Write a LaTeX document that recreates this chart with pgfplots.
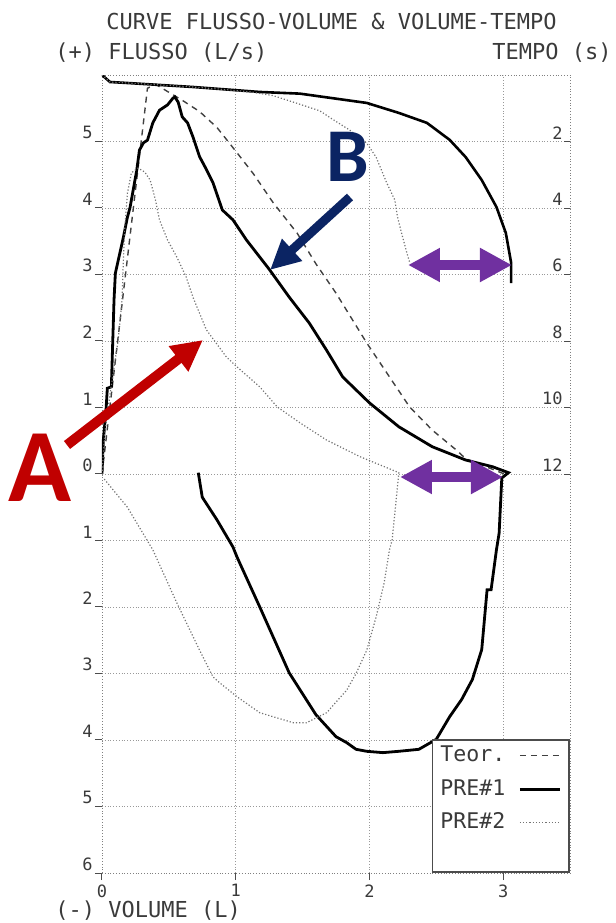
\documentclass[border=0pt]{standalone}
\usepackage{pgfplots}
\pgfplotsset{compat=1.18}
\usepackage{fontspec}
\setmainfont{DejaVu Sans Mono}
\newfontfamily\calib{Carlito}
\usetikzlibrary{arrows.meta}
\definecolor{inkgray}{HTML}{3A3A3A}
\definecolor{annred}{HTML}{C00000}
\definecolor{annblue}{HTML}{0B2463}
\definecolor{annpurple}{HTML}{7030A0}

\begin{document}
\begin{tikzpicture}
\path[use as bounding box] (-51pt,-25pt) rectangle (257pt,436.5pt);

% flow-volume loops
\begin{axis}[
  at={(0pt,0pt)}, anchor=south west,
  scale only axis, width=234pt, height=399pt,
  xmin=0, xmax=3.5, ymin=-6, ymax=6,
  xtick={0,1,2,3}, xticklabels={0,1,2,3},
  ytick={-6,...,5}, yticklabels={6,5,4,3,2,1,0,1,2,3,4,5},
  xtick pos=bottom, ytick pos=left,
  tick align=outside, major tick length=3.5pt,
  grid=major, major grid style={densely dotted, gray!80},
  axis line style={densely dotted, gray},
  tick style={gray!60!black, line width=0.5pt},
  ticklabel style={font=\fontsize{8.5}{9}\selectfont, text=inkgray, inner sep=0pt},
  yticklabel style={anchor=south east, xshift=-1pt, yshift=1pt},
  xticklabel style={anchor=north, yshift=-2pt},
  legend style={at={(rel axis cs:1,0)}, anchor=south east, draw=black!70,
    line width=0.8pt, fill=white, font=\fontsize{10.8}{12}\selectfont,
    text=inkgray, inner xsep=4pt, inner ysep=3pt, row sep=6.75pt,
    column sep=6.5pt, nodes={inner sep=0pt, text height=8pt, text depth=2pt}},
  legend plot pos=right, legend cell align=left,
  legend image code/.code={\draw[#1] (0pt,0pt) -- (20pt,0pt);},
]
\addplot[black!75, line width=0.7pt, dash pattern=on 3pt off 2.5pt] coordinates {
 (0,0) (0.34,5.80) (0.40,5.86) (0.60,5.62) (0.73,5.45) (0.86,5.21) (1.01,4.83)
 (1.13,4.52) (1.28,4.08) (1.46,3.62) (1.60,3.16) (1.75,2.72) (1.98,1.97)
 (2.13,1.52) (2.30,1.01) (2.47,0.66) (2.65,0.36) (2.72,0.23) (3.01,0)
};
\addlegendentry{Teor.}
\addplot[black, line width=1.4pt] coordinates {
 (0,0) (0.01,0.51) (0.03,0.96) (0.04,1.29) (0.07,1.31) (0.08,1.97) (0.09,2.62)
 (0.10,3.02) (0.16,3.56) (0.19,3.86) (0.21,4.01) (0.26,4.57) (0.28,4.87)
 (0.31,4.98) (0.34,5.02) (0.38,5.28) (0.43,5.47) (0.49,5.55) (0.53,5.65)
 (0.545,5.67) (0.57,5.59) (0.60,5.37) (0.64,5.28) (0.68,5.07) (0.73,4.77)
 (0.77,4.62) (0.83,4.38) (0.90,3.97) (0.98,3.82) (1.08,3.52) (1.25,3.08)
 (1.40,2.66) (1.55,2.27) (1.68,1.86) (1.80,1.46) (2.00,1.07) (2.22,0.71)
 (2.47,0.41) (2.72,0.21) (2.92,0.11) (3.04,0.02) (2.99,-0.06) (2.97,-0.89)
 (2.95,-1.14) (2.91,-1.74) (2.88,-1.74) (2.84,-2.64) (2.77,-3.09) (2.69,-3.39)
 (2.60,-3.65) (2.50,-3.99) (2.37,-4.14) (2.22,-4.17) (2.10,-4.19) (1.98,-4.17)
 (1.90,-4.14) (1.83,-4.04) (1.75,-3.95) (1.60,-3.62) (1.40,-2.99) (1.18,-2.00)
 (1.01,-1.25) (0.98,-1.10) (0.86,-0.69) (0.75,-0.35) (0.72,0.02)
};
\addlegendentry{PRE\#1}
\addplot[black!55, line width=0.6pt, densely dotted] coordinates {
 (0,0) (0.02,0.6) (0.06,1.2) (0.12,2.0) (0.15,2.62) (0.16,3.22) (0.17,3.71)
 (0.19,4.22) (0.22,4.53) (0.27,4.60) (0.32,4.54) (0.36,4.42) (0.40,4.12)
 (0.43,3.82) (0.49,3.52) (0.56,3.26) (0.63,2.96) (0.68,2.66) (0.78,2.17)
 (0.93,1.76) (1.01,1.61) (1.18,1.31) (1.31,1.01) (1.48,0.77) (1.68,0.51)
 (1.93,0.26) (2.22,0.02) (2.20,-0.39) (2.17,-0.99) (2.15,-1.14) (2.11,-1.64)
 (2.05,-2.15) (1.98,-2.65) (1.90,-3.00) (1.83,-3.25) (1.68,-3.59) (1.53,-3.74)
 (1.43,-3.74) (1.18,-3.59) (1.01,-3.35) (0.88,-3.14) (0.83,-3.05) (0.73,-2.65)
 (0.56,-1.94) (0.38,-1.14) (0.19,-0.50) (0.01,-0.06)
};
\addlegendentry{PRE\#2}
\addlegendimage{empty legend}
\addlegendentry{}
\end{axis}

% volume-time curves, time axis on the right
\begin{axis}[
  at={(0pt,0pt)}, anchor=south west,
  scale only axis, width=234pt, height=399pt,
  xmin=0, xmax=3.5, ymin=0, ymax=24, y dir=reverse,
  axis line style={draw=none},
  xtick=\empty, ytick={2,4,6,8,10,12}, yticklabels={2,4,6,8,10,12},
  ytick pos=right, yticklabel pos=right,
  tick align=inside, major tick length=3pt,
  tick style={gray!60!black, line width=0.5pt},
  ticklabel style={font=\fontsize{8.5}{9}\selectfont, text=inkgray, inner sep=0pt},
  yticklabel style={anchor=south east, xshift=-3.5pt, yshift=1pt},
]
\addplot[black, line width=1.3pt] coordinates {
 (0,0) (0.06,0.21) (0.19,0.24) (0.68,0.36) (1.18,0.51) (1.48,0.56) (1.98,0.84)
 (2.22,1.14) (2.43,1.44) (2.60,1.95) (2.72,2.47) (2.84,3.16) (2.95,3.97)
 (3.02,4.75) (3.06,5.65) (3.06,6.26)
};
\addplot[black!55, line width=0.6pt, densely dotted] coordinates {
 (0,0) (0.06,0.21) (0.19,0.24) (0.68,0.36) (1.10,0.50) (1.28,0.62) (1.48,0.88)
 (1.63,1.08) (1.72,1.32) (1.85,1.65) (1.98,2.05) (2.05,2.47) (2.13,3.25)
 (2.19,3.76) (2.21,4.27) (2.24,4.75) (2.28,5.35) (2.30,5.62)
};
\end{axis}

% headings
\begin{scope}[every node/.style={inner sep=0pt, text=inkgray, font=\fontsize{11}{13}\selectfont}]
\node[anchor=base west] at (2pt,421.5pt) {CURVE FLUSSO-VOLUME \& VOLUME-TEMPO};
\node[anchor=base west] at (-23.5pt,406.5pt) {(+) FLUSSO (L/s)};
\node[anchor=base east] at (255pt,406.5pt) {TEMPO (s)};
\node[anchor=base west] at (-23.5pt,-22.5pt) {(-) VOLUME (L)};
\end{scope}

% annotations
\draw[annred, line width=5pt, -{Triangle[length=15.5pt,width=15pt]}] (-17.5pt,214pt) -- (50.5pt,266.5pt);
\node[annred, inner sep=0pt, font=\calib\bfseries\fontsize{52}{52}\selectfont] at (-31pt,202.5pt) {A};
\draw[annblue, line width=4.5pt, -{Triangle[length=15pt,width=14pt]}] (124pt,338pt) -- (84pt,301.5pt);
\node[annblue, inner sep=0pt, font=\calib\bfseries\fontsize{38}{38}\selectfont] at (123pt,358pt) {B};
\draw[annpurple, line width=5pt, {Triangle[length=16pt,width=16pt]}-{Triangle[length=16pt,width=16pt]}] (153pt,304pt) -- (205pt,304pt);
\draw[annpurple, line width=5pt, {Triangle[length=16pt,width=16pt]}-{Triangle[length=16pt,width=16pt]}] (149pt,198pt) -- (200.5pt,198pt);
\end{tikzpicture}
\end{document}
